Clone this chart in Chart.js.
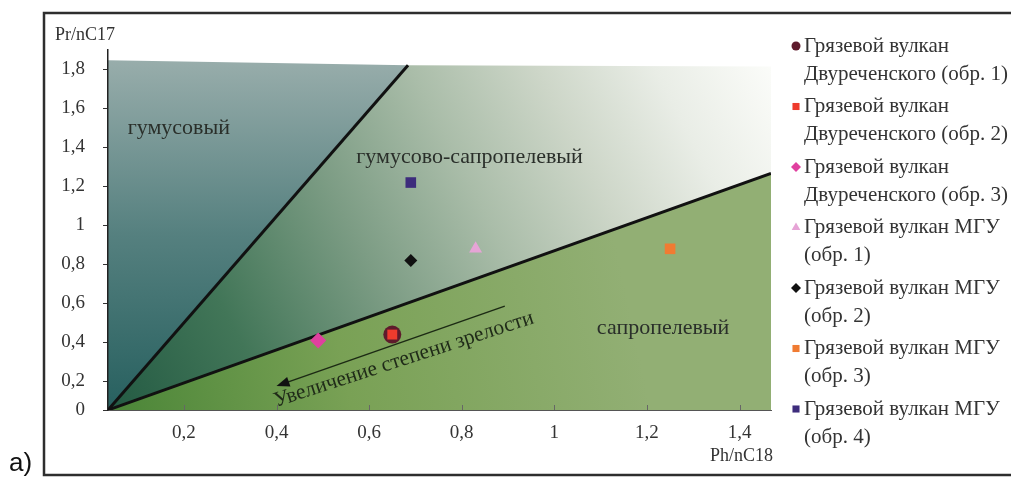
<!DOCTYPE html>
<html>
<head>
<meta charset="utf-8">
<script src="https://cdn.jsdelivr.net/npm/chart.js@4/dist/chart.umd.min.js"></script>
<style>
html,body{margin:0;padding:0;background:#fff;}
canvas{display:block;}
</style>
</head>
<body>
<canvas id="c" width="1011" height="479"></canvas>
<script>
// ---------------- DATA ----------------
const seriesNames = [
  ['Грязевой вулкан', 'Двуреченского (обр. 1)'],
  ['Грязевой вулкан', 'Двуреченского (обр. 2)'],
  ['Грязевой вулкан', 'Двуреченского (обр. 3)'],
  ['Грязевой вулкан МГУ', '(обр. 1)'],
  ['Грязевой вулкан МГУ', '(обр. 2)'],
  ['Грязевой вулкан МГУ', '(обр. 3)'],
  ['Грязевой вулкан МГУ', '(обр. 4)']
];
const phNC18 = [0.65, 0.65, 0.49, 0.83, 0.69, 1.25, 0.69];   // x values
const prNC17 = [0.44, 0.44, 0.41, 0.88, 0.82, 0.88, 1.22];   // y values

const xTickValues = [0.2, 0.4, 0.6, 0.8, 1, 1.2, 1.4];
const xTickLabels = ['0,2', '0,4', '0,6', '0,8', '1', '1,2', '1,4'];
const yTickValues = [0, 0.2, 0.4, 0.6, 0.8, 1, 1.2, 1.4, 1.6, 1.8];
const yTickLabels = ['0', '0,2', '0,4', '0,6', '0,8', '1', '1,2', '1,4', '1,6', '1,8'];

// genetic-type boundaries (from the origin of the diagram)
const humicBoundaryX = [0.036, 0.684];
const humicBoundaryY = [0.053, 1.822];
const sapropelBoundaryX = [0.036, 1.468];
const sapropelBoundaryY = [0.053, 1.267];
const diagramTopY = [1.848, 1.815];   // upper edge of the shaded field (left, right)

const regionNames = ['гумусовый', 'гумусово-сапропелевый', 'сапропелевый'];
const arrowLabel = 'Увеличение степени зрелости';
const xAxisTitle = 'Ph/nC18';
const yAxisTitle = 'Pr/nC17';
const panelLabel = 'a)';

// ---------------- STYLE / LAYOUT ----------------
const X_MIN = 0.036, X_MAX = 1.468, Y_MIN = 0.053, Y_MAX = 1.9;
const SERIF = '"Liberation Serif", "Times New Roman", serif';
const markerStyles = [
  {shape: 'circle',  color: '#5e1b2c', r: 9,   lr: 4.5, order: 1},
  {shape: 'rect',    color: '#ee3b2d', r: 7,   lr: 5,   order: 0},
  {shape: 'rectRot', color: '#e0409f', r: 8,   lr: 5,   order: 0},
  {shape: 'triangle',color: '#e6a4d6', r: 7.5, lr: 5,   order: 0},
  {shape: 'rectRot', color: '#111111', r: 6.5, lr: 5,   order: 0},
  {shape: 'rect',    color: '#f07b32', r: 7.5, lr: 5,   order: 0},
  {shape: 'rect',    color: '#3d2c7c', r: 7.5, lr: 5,   order: 0}
];
const annot = {
  regions: [ {x: 0.189, y: 1.50}, {x: 0.817, y: 1.35}, {x: 1.235, y: 0.473} ],
  arrowFrom: {x: 0.893, y: 0.586},
  arrowTo:   {x: 0.400, y: 0.176},
  arrowText: {x: 0.675, y: 0.312, angle: -18}
};

function drawMarker(ctx, shape, x, y, r, color) {
  ctx.save();
  ctx.fillStyle = color;
  ctx.beginPath();
  if (shape === 'circle') {
    ctx.arc(x, y, r, 0, Math.PI * 2);
  } else if (shape === 'rect') {
    const s = r * Math.SQRT1_2;
    ctx.rect(x - s, y - s, 2 * s, 2 * s);
  } else if (shape === 'rectRot') {
    ctx.moveTo(x - r, y); ctx.lineTo(x, y - r); ctx.lineTo(x + r, y); ctx.lineTo(x, y + r);
    ctx.closePath();
  } else if (shape === 'triangle') {
    const w = r * Math.sqrt(3) / 2;
    ctx.moveTo(x, y - r); ctx.lineTo(x + w, y + r / 2); ctx.lineTo(x - w, y + r / 2);
    ctx.closePath();
  }
  ctx.fill();
  ctx.restore();
}

// ---------------- PLUGINS ----------------
const fieldsPlugin = {
  id: 'fields',
  beforeDraw(chart) {
    const {ctx, scales: {x, y}} = chart;
    const P = (vx, vy) => [x.getPixelForValue(vx), y.getPixelForValue(vy)];
    const O = P(humicBoundaryX[0], humicBoundaryY[0]);
    const H = P(humicBoundaryX[1], humicBoundaryY[1]);
    const S = P(sapropelBoundaryX[1], sapropelBoundaryY[1]);
    const TL = P(X_MIN, diagramTopY[0]);
    const TR = P(X_MAX, diagramTopY[1]);
    const BR = P(X_MAX, Y_MIN);
    const poly = (pts, fill) => {
      ctx.beginPath();
      ctx.moveTo(pts[0][0], pts[0][1]);
      for (let i = 1; i < pts.length; i++) ctx.lineTo(pts[i][0], pts[i][1]);
      ctx.closePath();
      ctx.fillStyle = fill;
      ctx.fill();
    };
    ctx.save();
    // humic
    let g = ctx.createLinearGradient(0, TL[1], 0, O[1]);
    g.addColorStop(0, '#98adab');
    g.addColorStop(0.5, '#55807f');
    g.addColorStop(1, '#27605f');
    poly([O, TL, H], g);
    // mixed
    g = ctx.createLinearGradient(O[0], O[1], TR[0], TR[1]);
    g.addColorStop(0, '#235a43');
    g.addColorStop(0.2, '#427658');
    g.addColorStop(0.4, '#7c9c84');
    g.addColorStop(0.57, '#aabda9');
    g.addColorStop(0.72, '#cdd6c8');
    g.addColorStop(0.86, '#e9ede6');
    g.addColorStop(1, '#fbfcf9');
    poly([O, H, TR, S], g);
    // sapropelic
    g = ctx.createLinearGradient(O[0], O[1], O[0] + 520, O[1] - 110);
    g.addColorStop(0, '#4a8537');
    g.addColorStop(0.45, '#79a155');
    g.addColorStop(1, '#92af74');
    poly([O, S, BR], g);
    ctx.restore();
  }
};

const annotPlugin = {
  id: 'annot',
  beforeDatasetsDraw(chart) {
    const {ctx, scales: {x, y}} = chart;
    ctx.save();
    ctx.fillStyle = '#2a2f2a';
    ctx.font = '22px ' + SERIF;
    ctx.textAlign = 'center';
    ctx.textBaseline = 'middle';
    regionNames.forEach((t, i) => {
      ctx.fillText(t, x.getPixelForValue(annot.regions[i].x), y.getPixelForValue(annot.regions[i].y));
    });
    // arrow
    const x1 = x.getPixelForValue(annot.arrowFrom.x), y1 = y.getPixelForValue(annot.arrowFrom.y);
    const x2 = x.getPixelForValue(annot.arrowTo.x), y2 = y.getPixelForValue(annot.arrowTo.y);
    const a = Math.atan2(y2 - y1, x2 - x1);
    ctx.strokeStyle = '#1c2a14';
    ctx.lineWidth = 1.5;
    ctx.beginPath();
    ctx.moveTo(x1, y1);
    ctx.lineTo(x2 - 8 * Math.cos(a), y2 - 8 * Math.sin(a));
    ctx.stroke();
    ctx.fillStyle = '#111';
    ctx.beginPath();
    ctx.moveTo(x2, y2);
    ctx.lineTo(x2 - 13 * Math.cos(a) + 5 * Math.sin(a), y2 - 13 * Math.sin(a) - 5 * Math.cos(a));
    ctx.lineTo(x2 - 13 * Math.cos(a) - 5 * Math.sin(a), y2 - 13 * Math.sin(a) + 5 * Math.cos(a));
    ctx.closePath();
    ctx.fill();
    // rotated label
    ctx.translate(x.getPixelForValue(annot.arrowText.x), y.getPixelForValue(annot.arrowText.y));
    ctx.rotate(annot.arrowText.angle * Math.PI / 180);
    ctx.fillStyle = '#1f2a18';
    ctx.font = '21.5px ' + SERIF;
    ctx.fillText(arrowLabel, 0, 0);
    ctx.restore();
  },
  afterDraw(chart) {
    const {ctx, chartArea, scales: {x}} = chart;
    ctx.save();
    // inner tick marks on x axis
    ctx.strokeStyle = '#666';
    ctx.lineWidth = 1;
    xTickValues.forEach(v => {
      const px = Math.round(x.getPixelForValue(v)) + 0.5;
      ctx.beginPath();
      ctx.moveTo(px, chartArea.bottom);
      ctx.lineTo(px, chartArea.bottom - 5);
      ctx.stroke();
    });
    // axis titles
    ctx.fillStyle = '#333';
    ctx.font = '18px ' + SERIF;
    ctx.textBaseline = 'middle';
    ctx.textAlign = 'left';
    ctx.fillText(yAxisTitle, 55, 35);
    ctx.textAlign = 'right';
    ctx.fillText(xAxisTitle, chartArea.right + 2, 456);
    // legend
    ctx.textAlign = 'left';
    ctx.font = '21px ' + SERIF;
    seriesNames.forEach((lines, i) => {
      const yy = 46 + i * 60.5;
      const st = markerStyles[i];
      drawMarker(ctx, st.shape, 796, yy, st.lr, st.color);
      ctx.fillStyle = '#333';
      lines.forEach((ln, j) => ctx.fillText(ln, 804, yy + j * 28));
    });
    // frame
    ctx.strokeStyle = '#2e2e2e';
    ctx.lineWidth = 2.5;
    ctx.strokeRect(44, 13, 1011, 462);
    // panel label
    ctx.fillStyle = '#111';
    ctx.font = '26px "Liberation Sans", Arial, sans-serif';
    ctx.textAlign = 'left';
    ctx.textBaseline = 'alphabetic';
    ctx.fillText(panelLabel, 9, 471);
    ctx.restore();
  }
};

const datasets = seriesNames.map((n, i) => ({
  label: n.join(' '),
  data: [{x: phNC18[i], y: prNC17[i]}],
  pointStyle: markerStyles[i].shape,
  pointRadius: markerStyles[i].r,
  pointHoverRadius: markerStyles[i].r,
  backgroundColor: markerStyles[i].color,
  borderColor: markerStyles[i].color,
  pointBorderWidth: 0,
  order: markerStyles[i].order,
  showLine: false
}));
datasets.push({
  label: 'humic boundary',
  data: humicBoundaryX.map((v, i) => ({x: v, y: humicBoundaryY[i]})),
  showLine: true, borderColor: '#111', borderWidth: 3, pointRadius: 0, order: 5
});
datasets.push({
  label: 'sapropel boundary',
  data: sapropelBoundaryX.map((v, i) => ({x: v, y: sapropelBoundaryY[i]})),
  showLine: true, borderColor: '#111', borderWidth: 3, pointRadius: 0, order: 5
});

new Chart(document.getElementById('c'), {
  type: 'scatter',
  data: {datasets},
  options: {
    responsive: false,
    devicePixelRatio: 1,
    animation: false,
    layout: {padding: {left: 43, top: 50, right: 240, bottom: 9}},
    plugins: {legend: {display: false}, tooltip: {enabled: false}},
    scales: {
      x: {
        type: 'linear', min: X_MIN, max: X_MAX,
        afterBuildTicks: s => { s.ticks = xTickValues.map(v => ({value: v})); },
        afterFit: s => { s.height = 60; },
        ticks: {
          callback: (v, i) => xTickLabels[i],
          font: {family: SERIF, size: 19}, color: '#333',
          padding: 12, autoSkip: false, maxRotation: 0
        },
        grid: {display: false, drawTicks: false},
        border: {display: true, color: '#555', width: 1}
      },
      y: {
        type: 'linear', min: Y_MIN, max: Y_MAX,
        afterBuildTicks: s => { s.ticks = yTickValues.map(v => ({value: Math.max(v, s.min)})); },
        afterFit: s => { s.width = 65; },
        ticks: {
          callback: (v, i) => yTickLabels[i],
          font: {family: SERIF, size: 19}, color: '#333',
          padding: 18, autoSkip: false
        },
        grid: {display: true, drawOnChartArea: false, drawTicks: true, tickLength: 5, color: '#333', lineWidth: 1},
        border: {display: true, color: '#222', width: 1.5}
      }
    }
  },
  plugins: [fieldsPlugin, annotPlugin]
});
</script>
</body>
</html>
